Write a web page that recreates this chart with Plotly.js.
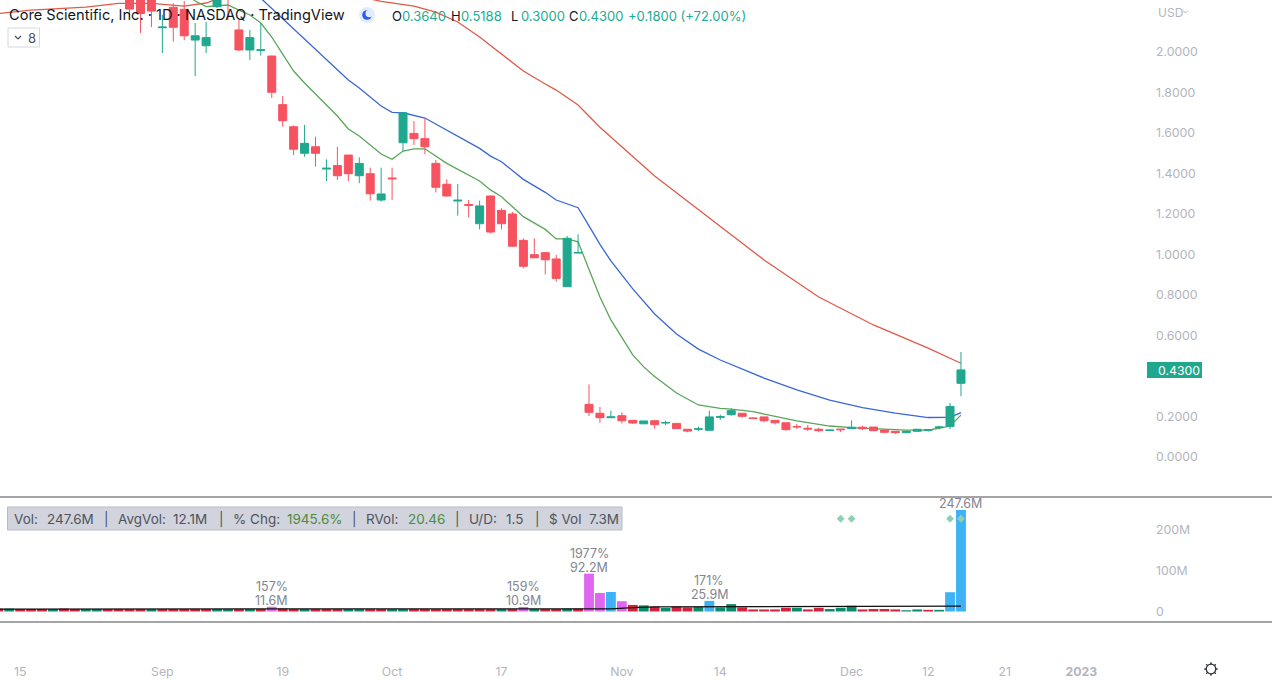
<!DOCTYPE html>
<html><head><meta charset="utf-8">
<script src="https://cdn.plot.ly/plotly-3.0.1.min.js"></script>
<style>html,body{margin:0;padding:0;background:#fff}#c{width:1272px;height:680px}</style></head>
<body><div id="c"></div>
<script>
// ---------- data ----------
const candleIdx = [12,13,14,15,16,17,18,19,20,21,22,23,24,25,26,27,28,29,30,31,32,33,34,35,36,37,38,39,40,41,42,43,44,45,46,47,48,49,50,51,52,53,54,55,56,57,58,59,60,61,62,63,64,65,66,67,68,69,70,71,72,73,74,75,76,77,78,79,80,81,82,83,84,85,86,87,88];
const opens = [2.30,2.30,2.29,2.120,2.221,2.211,2.059,2.031,2.224,2.33,2.109,2.010,2.008,1.980,1.740,1.631,1.500,1.532,1.422,1.439,1.491,1.389,1.399,1.269,1.378,1.552,1.598,1.572,1.450,1.347,1.264,1.247,1.152,1.289,1.218,1.200,1.070,0.999,1.009,0.978,0.841,1.007,0.260,0.216,0.194,0.204,0.181,0.164,0.179,0.168,0.166,0.137,0.137,0.132,0.196,0.209,0.216,0.193,0.198,0.181,0.169,0.150,0.142,0.137,0.131,0.138,0.140,0.147,0.148,0.133,0.127,0.120,0.127,0.132,0.146,0.151,0.3640];
const highs = [2.32,2.33,2.32,2.183,2.240,2.252,2.143,2.150,2.33,2.36,2.158,2.109,2.143,1.982,1.783,1.637,1.640,1.582,1.470,1.532,1.491,1.480,1.429,1.429,1.429,1.702,1.659,1.673,1.467,1.371,1.348,1.269,1.266,1.291,1.228,1.210,1.080,1.080,1.011,0.998,1.092,1.100,0.359,0.248,0.229,0.221,0.183,0.178,0.181,0.179,0.166,0.138,0.150,0.229,0.209,0.240,0.217,0.195,0.198,0.183,0.169,0.164,0.158,0.145,0.134,0.138,0.181,0.155,0.148,0.133,0.128,0.128,0.138,0.136,0.155,0.267,0.5188];
const lows = [2.173,2.094,2.123,1.995,2.051,2.059,1.881,1.995,2.217,2.158,2.005,1.960,1.982,1.773,1.631,1.491,1.483,1.434,1.363,1.368,1.363,1.352,1.266,1.261,1.269,1.511,1.541,1.495,1.307,1.286,1.192,1.182,1.124,1.105,1.124,1.037,0.932,0.981,0.902,0.866,0.840,1.006,0.202,0.169,0.193,0.166,0.163,0.164,0.140,0.158,0.140,0.122,0.128,0.132,0.183,0.204,0.194,0.188,0.171,0.161,0.130,0.138,0.128,0.122,0.128,0.123,0.138,0.133,0.128,0.119,0.114,0.119,0.125,0.125,0.137,0.138,0.3000];
const closes = [2.212,2.190,2.202,2.123,2.122,2.080,2.080,2.071,2.30,2.28,2.010,2.071,2.011,1.801,1.661,1.520,1.549,1.500,1.426,1.389,1.399,1.450,1.300,1.299,1.374,1.700,1.572,1.532,1.332,1.289,1.268,1.243,1.240,1.111,1.152,1.041,0.942,0.984,0.974,0.882,1.080,1.010,0.221,0.194,0.198,0.179,0.168,0.178,0.160,0.170,0.140,0.128,0.139,0.198,0.199,0.229,0.201,0.190,0.179,0.169,0.135,0.149,0.138,0.130,0.133,0.135,0.147,0.140,0.130,0.122,0.120,0.127,0.137,0.135,0.148,0.250,0.4300];

const fastIdx = [17,18,19,20,21,22,23,24,25,26,27,28,29,30,31,32,33,34,35,36,37,38,39,41,44,45,46,48,50,51,52,53,54,55,56,57,58,59,60,62,64,66,67,69,71,73,76,78,83,85,86,87,88];
const fastMA = [2.296,2.252,2.224,2.227,2.232,2.207,2.183,2.143,2.074,1.990,1.906,1.847,1.793,1.738,1.684,1.620,1.585,1.541,1.496,1.470,1.511,1.522,1.522,1.450,1.363,1.319,1.285,1.187,1.124,1.077,1.077,1.063,0.923,0.790,0.677,0.588,0.504,0.445,0.397,0.316,0.257,0.240,0.236,0.224,0.202,0.178,0.153,0.145,0.133,0.133,0.142,0.153,0.207];
const midIdx = [23,24,25,26,27,29,32,33,35,36,37,39,42,44,45,46,48,50,51,53,54,55,56,58,60,62,64,66,70,73,76,79,82,85,87,88];
const midMA = [2.316,2.266,2.212,2.163,2.113,2.014,1.862,1.822,1.733,1.702,1.700,1.674,1.582,1.524,1.486,1.458,1.371,1.307,1.269,1.231,1.141,1.050,0.968,0.830,0.706,0.607,0.533,0.479,0.390,0.331,0.281,0.244,0.217,0.195,0.196,0.219];
const slowIdx = [0,3,8,11,14,17,19,21,30,34,35,37,38,40,42,44,46,48,50,51,53,55,60,65,70,75,80,85,88];
const slowMA = [2.190,2.207,2.222,2.240,2.240,2.227,2.242,2.281,2.356,2.262,2.250,2.237,2.227,2.197,2.148,2.074,1.990,1.906,1.842,1.812,1.738,1.628,1.388,1.180,0.973,0.790,0.652,0.538,0.463];

const volIdx = [0,1,2,3,4,5,6,7,8,9,10,11,12,13,14,15,16,17,18,19,20,21,22,23,24,25,26,27,28,29,30,31,32,33,34,35,36,37,38,39,40,41,42,43,44,45,46,47,48,49,50,51,52,53,54,55,56,57,58,59,60,61,62,63,64,65,66,67,68,69,70,71,72,73,74,75,76,77,78,79,80,81,82,83,84,85,86,87,88];
const volumes = [7,7,6,6,6,6,7,6,6,6,6,6,6,6,6,6,6,6,6,6,6,6,6,6,6,11.6,7,6,6,6,6,6,6,6,6,6,6,6,6,6,6,6,6,6,6,6,6,6,10.9,6,6,6,7,7,92.2,45,47.5,25,16,15,12,8.5,12,10,11,25.9,10,18,10,5,5,5,9,9,5,9,6,9,14,5,6,6,5,3,5,4,4,47,247.6];
const volKinds = "rgrrrgrrggrrrrgrrrrrggrgrprrgrrrggrrggrrrrrrrrgrpgrrgrppbprgrgrrgbggrrrrrgrrgggrrrrggrgbb".split("");
const avgIdx = [0,54,56,58,60,70,87,88];
const avgVol = [6,6,6.5,9.5,11.5,12,12,13];

const diamondIdx = [77,78,87,88];
const diamondLevel = [226,226,226,226];

const volLabelIdx = [25,48,54,65,88];
const volLabelPct = ["157%","159%","1977%","171%",""];
const volLabelAmt = ["11.6M","10.9M","92.2M","25.9M","247.6M"];

const dateTickIdx = [2,15,26,36,46,57,66,78,85,92,99];
const dateTickText = ["15","Sep","19","Oct","17","Nov","14","Dec","12","21","<b>2023</b>"];
const priceTicks = [0,0.2,0.6,0.8,1.0,1.2,1.4,1.6,1.8,2.0];
const priceTickText = ["0.0000","0.2000","0.6000","0.8000","1.0000","1.2000","1.4000","1.6000","1.8000","2.0000"];
const volTicks = [0,100,200];
const volTickText = ["0","100M","200M"];

const chartTitle = "Core Scientific, Inc. · 1D · NASDAQ · TradingView";
const ohlcText = ["O","0.3640","H","0.5188","L","0.3000","C","0.4300","+0.1800 (+72.00%)"];
const statLabels = ["Vol:","AvgVol:","% Chg:","RVol:","U/D:","$ Vol"];
const statValues = ["247.6M","12.1M","1945.6%","20.46","1.5","7.3M"];
const lastPriceText = "0.4300";

// ---------- page geometry ----------
const W = 1272, H = 680, FONT = "Inter, Roboto, sans-serif";
const px = x => x / W, py = y => (H - y) / H;
const GREEN = "#1fa88e", RED = "#f7525f", GREY = "#b2b5be";
const volColor = {r:"#d0233d", g:"#0b8a6c", p:"#e066f0", b:"#3db2f5"};
const priceRange = [-0.1975, 2.2568];

function txt(x, y, text, size, color, anchor) {
  return {xref:"paper", yref:"paper", x:px(x), y:py(y), text, showarrow:false,
          xanchor:anchor||"left", yanchor:"middle", borderpad:0,
          font:{family:FONT, size, color}};
}
const ann = [];
ann.push(txt(8, 15, chartTitle, 14.6, "#131722"));
const ohlcX = [391,401,450,460,510,520,568,578,627];
ohlcText.forEach((t,i)=>ann.push(txt(ohlcX[i],16,t,13,(i%2===0&&i<8)?"#131722":"#22ab94")));
ann.push(txt(27, 38, "8", 13, "#50535e"));
ann.push(txt(1156.5, 12, "USD", 12, GREY));
ann.push(txt(1157, 370, lastPriceText, 12.3, "#ffffff"));

const statLX = [13,116.7,232,365,468,548];
const statVX = [45.7,172,286,407,505,588];
const statCol = ["#50535e","#50535e","#4f8a3c","#4f8a3c","#50535e","#50535e"];
statLabels.forEach((t,i)=>{
  ann.push(txt(statLX[i],519,t,13.5,"#50535e"));
  ann.push(txt(statVX[i],519,statValues[i],13.5,statCol[i]));
});
[106,221.6,354,457,537].forEach(x=>ann.push(txt(x,519,"|",13.5,"#50535e","center")));

const volLabelStyle = {family:FONT,size:12.5,color:"#83868f"};
volLabelIdx.forEach((idx,i)=>{
  const base = {xref:"x",yref:"y2",x:idx,y:volumes[volIdx.indexOf(idx)],showarrow:false,
                xanchor:"center",yanchor:"bottom",borderpad:0,font:volLabelStyle};
  ann.push(Object.assign({},base,{text:volLabelAmt[i],yshift:-2}));
  if(volLabelPct[i]) ann.push(Object.assign({},base,{text:volLabelPct[i],yshift:12}));
});

const shapes = [];
const rect=(x0,y0,x1,y1,fill,line,lw)=>({type:"rect",xref:"paper",yref:"paper",x0:px(x0),x1:px(x1),y0:py(y1),y1:py(y0),
  fillcolor:fill,line:{color:line||"rgba(0,0,0,0)",width:lw||0},layer:"below"});
const circ=(cx,cy,r,fill,line,lw,layer)=>({type:"circle",xref:"paper",yref:"paper",x0:px(cx-r),x1:px(cx+r),y0:py(cy+r),y1:py(cy-r),
  fillcolor:fill,line:{color:line||"rgba(0,0,0,0)",width:lw||0},layer:layer||"above"});
const hline=(x0,y0,x1,y1,color,w)=>({type:"line",xref:"paper",yref:"paper",x0:px(x0),x1:px(x1),y0:py(y0),y1:py(y1),line:{color,width:w},layer:"above"});
shapes.push(hline(0,497,1272,497,"#4a4a4a",1.2));
shapes.push(hline(0,622,1272,622,"#4a4a4a",1.2));
shapes.push(Object.assign(rect(7.5,507,622,530,"#d1d4dc","#b8bbc4",1),{layer:"below"}));
shapes.push(Object.assign(rect(8,28,39.5,47,"#ffffff","#d6d8de",1),{layer:"above"}));
shapes.push(hline(15,36,18,39,"#50535e",1.2),hline(18,39,21,36,"#50535e",1.2));
shapes.push(hline(1183,10.5,1185.5,13,GREY,1),hline(1185.5,13,1188,10.5,GREY,1));
shapes.push(Object.assign(rect(1147,362,1202,378,GREEN),{layer:"above"}));
shapes.push(circ(367,15,8,"#e3ecff"),circ(367,15,4.8,"#2a5cf0"),circ(369.3,13.5,3.8,"#e3ecff"));
shapes.push(circ(1211,669,4.8,"rgba(0,0,0,0)","#2a2e39",1.3));
for(let a=0;a<8;a++){const c=Math.cos(a*Math.PI/4),s=Math.sin(a*Math.PI/4);
  shapes.push(hline(1211+4.8*c,669+4.8*s,1211+6.8*c,669+6.8*s,"#2a2e39",1.3));}

// ---------- traces ----------
const traces = [
  {type:"scatter",mode:"lines",x:slowIdx,y:slowMA,xaxis:"x",yaxis:"y",line:{color:"#e05a4a",width:1.3},hoverinfo:"skip"},
  {type:"scatter",mode:"lines",x:midIdx,y:midMA,xaxis:"x",yaxis:"y",line:{color:"#3a66d8",width:1.3},hoverinfo:"skip"},
  {type:"scatter",mode:"lines",x:fastIdx,y:fastMA,xaxis:"x",yaxis:"y",line:{color:"#5aa55a",width:1.3},hoverinfo:"skip"},
  {type:"candlestick",x:candleIdx,open:opens,high:highs,low:lows,close:closes,xaxis:"x",yaxis:"y3",whiskerwidth:0,
   increasing:{line:{color:GREEN,width:1},fillcolor:GREEN},decreasing:{line:{color:RED,width:1},fillcolor:RED}},
  {type:"bar",x:volIdx,y:volumes,xaxis:"x",yaxis:"y2",marker:{color:volKinds.map(k=>volColor[k]),line:{width:0}}},
  {type:"scatter",mode:"lines",x:avgIdx,y:avgVol,xaxis:"x",yaxis:"y2",line:{color:"#111111",width:1.2},hoverinfo:"skip"},
  {type:"scatter",mode:"markers",x:diamondIdx,y:diamondLevel,xaxis:"x",yaxis:"y2",marker:{symbol:"diamond",size:6,color:"#8fd0b5"},hoverinfo:"skip"}
];
const tickFont = {family:FONT,size:12.3,color:GREY};
const layout = {
  width:W,height:H,margin:{l:0,r:0,t:0,b:0,pad:0},paper_bgcolor:"#fff",plot_bgcolor:"#fff",
  showlegend:false,bargap:0.1,boxmode:"group",boxgap:0.27,boxgroupgap:0,font:{family:FONT},
  xaxis:{domain:[0,1],range:[0.16,116.43],anchor:"y2",showgrid:false,zeroline:false,showline:false,
         rangeslider:{visible:false},tickmode:"array",tickvals:dateTickIdx,ticktext:dateTickText,
         ticks:"outside",ticklen:38,tickcolor:"rgba(0,0,0,0)",tickangle:0,tickfont:tickFont},
  yaxis:{domain:[py(497),1],range:priceRange,anchor:"free",position:px(1155),side:"right",showgrid:false,zeroline:false,
         tickmode:"array",tickvals:priceTicks,ticktext:priceTickText,tickfont:tickFont,ticks:""},
  yaxis3:{overlaying:"y",range:priceRange,visible:false,anchor:"x"},
  yaxis2:{domain:[py(622),py(497)],range:[-25.6,279],anchor:"free",position:px(1155),side:"right",showgrid:false,zeroline:false,
          tickmode:"array",tickvals:volTicks,ticktext:volTickText,tickfont:tickFont,ticks:""},
  shapes,annotations:ann
};
Plotly.newPlot("c",traces,layout,{displayModeBar:false,staticPlot:true});
</script></body></html>
